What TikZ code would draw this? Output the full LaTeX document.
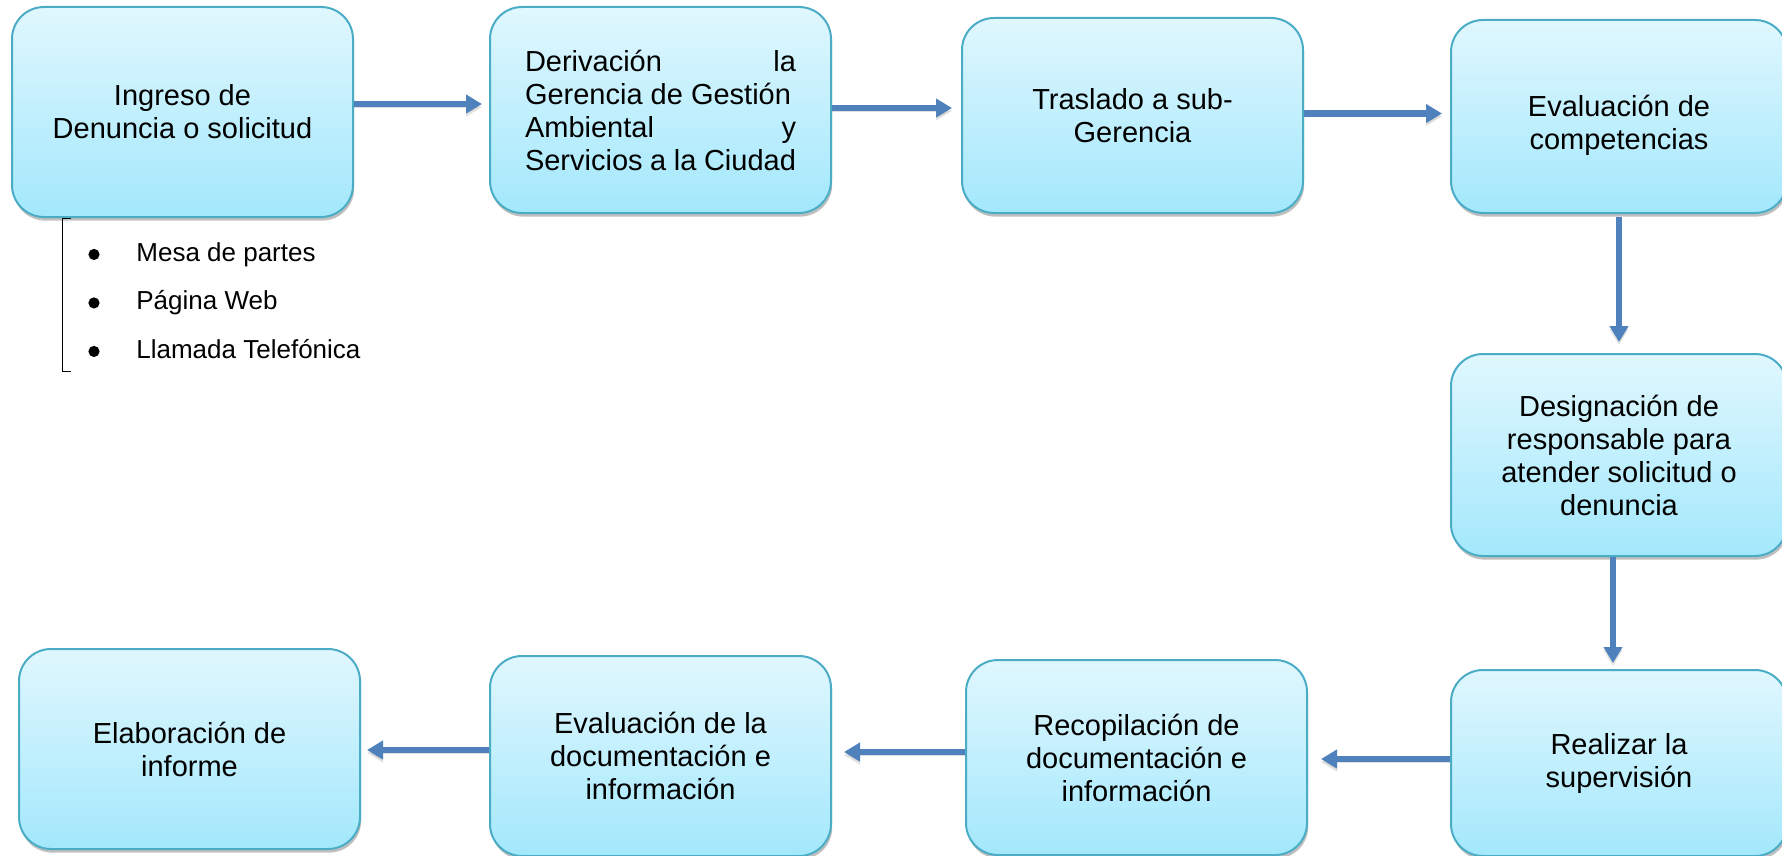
\documentclass[tikz,border=0pt]{standalone}
\usepackage{fontspec}
\setmainfont{Liberation Sans}
\usetikzlibrary{positioning, arrows.meta, shadows}
\definecolor{boxtop}{RGB}{224,247,254}
\definecolor{boxbot}{RGB}{163,232,252}
\definecolor{boxline}{RGB}{75,172,198}
\definecolor{flowblue}{RGB}{79,129,189}
\newcommand{\itemdot}{\tikz[baseline=0pt]\fill (0,3.4pt) circle (2.8pt);}
\tikzset{
	>={Triangle[length=8pt,width=9pt]}, % wide triangular heads like the blue arrows
	flow/.style={->, line width=3.2pt, draw=flowblue,
		preaction={draw=black, opacity=0.12, transform canvas={yshift=-1.5pt}}}, % the connectors between the steps
	stepbox/.style={rectangle, rounded corners=16pt, draw=boxline, line width=1pt,
		top color=boxtop, bottom color=boxbot, minimum width=170.5pt, align=center,
		font=\fontsize{14.5}{16.5}\selectfont,
		drop shadow={shadow xshift=0.6pt, shadow yshift=-1.8pt, fill=black, opacity=0.25}}, % the cyan process boxes
	itemlist/.style={inner sep=0pt, align=left, font=\fontsize{13}{24.25}\selectfont}, % bullet list under the first box
}

\begin{document}
\begin{tikzpicture}
	\useasboundingbox (0,0) rectangle (891pt,-428pt);
			\node[stepbox, minimum height=105pt] (p1) at (91.25pt,-56pt) {Ingreso de\\Denuncia o solicitud};
			\node[stepbox, minimum height=103pt, right=67.5pt of p1, yshift=1pt] (p2)
				{\parbox{135.5pt}{\raggedright Derivación\hfill la\\Gerencia de Gestión\\Ambiental\hfill y\\Servicios a la Ciudad}};
			\node[stepbox, minimum height=97.5pt, right=64.5pt of p2, yshift=-2.75pt] (p3) {Traslado a sub-\\Gerencia};
			\node[stepbox, minimum height=96.5pt, minimum width=168pt, right=73pt of p3, yshift=-0.5pt] (p4)
				{\parbox[c][50pt][c]{150pt}{\vspace*{9pt}\centering Evaluación de\\competencias}};
			\node[stepbox, minimum height=101pt, minimum width=168pt, below=69.5pt of p4] (p5) {Designación de\\responsable para\\atender solicitud o\\denuncia};
			\node[stepbox, minimum height=93pt, minimum width=168pt, below=56pt of p5] (p6) {Realizar la\\supervisión};
			\node[stepbox, minimum height=97.5pt, left=71pt of p6, yshift=2.75pt] (p7) {Recopilación de\\documentación e\\información};
			\node[stepbox, minimum height=100pt, left=66.5pt of p7, yshift=0.75pt] (p8) {Evaluación de la\\documentación e\\información};
			\node[stepbox, minimum height=100pt, left=64pt of p8, yshift=3.5pt] (p9) {Elaboración de\\informe};

			% ways of entering a request
			\node[itemlist, anchor=north west] (lista) at ([xshift=25.5pt,yshift=-12pt]p1.south west)
				{\hspace*{13pt}\makebox[24pt][l]{\itemdot}Mesa de partes\\
				 \hspace*{13pt}\makebox[24pt][l]{\itemdot}Página Web\\
				 \hspace*{13pt}\makebox[24pt][l]{\itemdot}Llamada Telefónica};
	\draw[line width=0.5pt] ([shift={(4.5pt,12pt)}]lista.north west) -- ([yshift=12pt]lista.north west)
			-- ([yshift=-6.5pt]lista.south west) -- ([shift={(4.5pt,-6.5pt)}]lista.south west);

	\draw[flow] ([yshift=4pt]p1.east) -- ([xshift=-3.5pt,yshift=3pt]p2.west);
	\draw[flow] ([yshift=1pt]p2.east) -- ([xshift=-4.5pt,yshift=3.75pt]p3.west);
	\draw[flow] ([yshift=1pt]p3.east) -- ([xshift=-4pt,yshift=1.5pt]p4.west);
	\draw[flow] ([yshift=-1.5pt]p4.south) -- ([yshift=5.5pt]p5.north);
	\draw[flow] ([xshift=-3pt]p5.south) -- ([xshift=-3pt,yshift=3pt]p6.north);
	\draw[flow] ([yshift=2pt]p6.west) -- ([xshift=6.5pt,yshift=-0.75pt]p7.east);
	\draw[flow] ([yshift=2.75pt]p7.west) -- ([xshift=6pt,yshift=2pt]p8.east);
	\draw[flow] ([yshift=3pt]p8.west) -- ([xshift=3pt,yshift=-0.5pt]p9.east);
\end{tikzpicture}
\end{document}
